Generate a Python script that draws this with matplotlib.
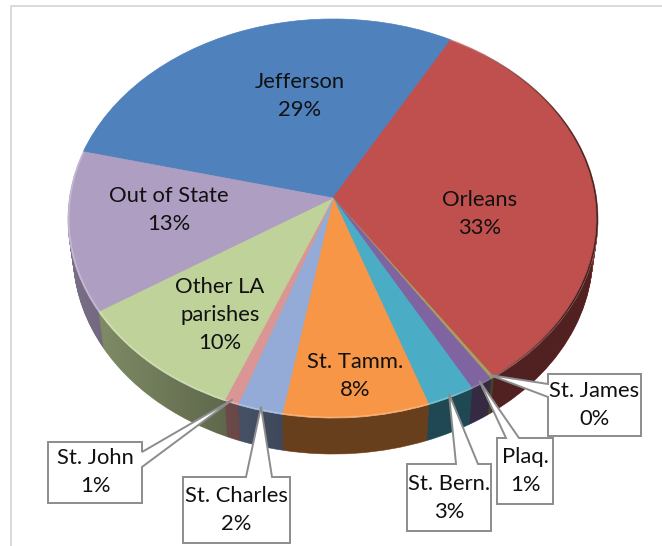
import numpy as np
import matplotlib
matplotlib.use("Agg")
import matplotlib.pyplot as plt
import matplotlib.transforms as mtransforms
from matplotlib.colors import to_rgb
from matplotlib.patches import Polygon

# ---- data (clockwise from the Jefferson wedge start) ----
categories = ["Jefferson", "Orleans", "St. James", "Plaq.", "St. Bern.",
              "St. Tamm.", "St. Charles", "St. John", "Other LA\nparishes", "Out of State"]
values = [29.25, 32.5, 0.2, 1.25, 2.65, 8.1, 2.5, 0.8, 9.8, 13.0]
pct_labels = ["29%", "33%", "0%", "1%", "3%", "8%", "2%", "1%", "10%", "13%"]
colors = ["#4F81BD", "#C0504D", "#A8A060", "#8064A2", "#4BACC6",
          "#F79646", "#93ABD6", "#DA9694", "#BFD299", "#AE9EC2"]

W, H = 662, 546
CX, CY, KP, AY, BX = 333.0, 198.0, 0.1028, 177.05, 263.6
DEPTH = 36
TAPER = 0.02


class Persp(mtransforms.Transform):
    input_dims = output_dims = 2
    has_inverse = False
    is_separable = False

    def transform_non_affine(self, xy):
        xy = np.asarray(xy, float)
        w = 1 + KP * xy[:, 1]
        return np.column_stack([CX + BX * xy[:, 0] / w, (CY - AY * xy[:, 1]) / w])


persp = Persp()


def layer_shift(dy):
    s = 1 - TAPER * dy / DEPTH
    return (mtransforms.Affine2D().translate(-CX, 0).scale(s, 1)
            .translate(CX, dy))


def project(u, v, dy=0):
    p = persp.transform_non_affine(np.column_stack([u, v]))
    return layer_shift(dy).transform(p)


plt.rcParams["font.family"] = ["Lato", "DejaVu Sans"]
fig = plt.figure(figsize=(W / 100, H / 100), dpi=100, facecolor="white")
ax = fig.add_axes([0, 0, 1, 1])


def draw_pie(cols, radius=1.0, dy=0, z=1):
    wedges, _ = ax.pie(values, colors=cols, radius=radius, startangle=166.1,
                       counterclock=False, wedgeprops={"linewidth": 0.5})
    tr = persp + layer_shift(dy) + ax.transData
    for w in wedges:
        w.set_transform(tr)
        w.set_edgecolor(w.get_facecolor())
        w.set_zorder(z)
    return wedges


# side wall
side_cols = [tuple(c * 0.7 for c in to_rgb(col)) for col in colors]
for dy in range(DEPTH, 0, -1):
    draw_pie(side_cols, dy=dy, z=2)

# darkening across the side wall
t = np.linspace(0, 2 * np.pi, 361)
lo = np.arcsin(KP)
arc = np.linspace(np.pi + lo, 2 * np.pi - lo, 200)
bottom = project(np.cos(arc), np.sin(arc), DEPTH)
top_l = project([np.cos(np.pi + lo)], [np.sin(np.pi + lo)])
top_r = project([np.cos(2 * np.pi - lo)], [np.sin(2 * np.pi - lo)])
clip_side = Polygon(np.vstack([top_l, bottom, top_r]), closed=True,
                    transform=ax.transData, fill=False, lw=0)
ax.add_patch(clip_side)
gx = np.arange(W)
shade = np.zeros((1, W, 4))
shade[0, :, 3] = np.clip((gx - 70) / 210, 0, 1) * 0.4
im = ax.imshow(shade, extent=(0, W, H, 0), aspect="auto", zorder=3, interpolation="bilinear")
im.set_clip_path(clip_side)

# bevel along the rim of the top face (none along the far, blue edge)
rim_cols = [tuple(c + (1 - c) * 0.28 for c in to_rgb(col)) for col in colors]
rim_cols[0] = to_rgb(colors[0])
draw_pie(rim_cols, z=4)
rim_outline = Polygon(project(np.cos(t), np.sin(t)), closed=True, transform=ax.transData,
                      fill=False, lw=0)
ax.add_patch(rim_outline)
shade2 = np.zeros((1, W, 4))
shade2[0, :, 3] = np.clip((gx - 450) / 120, 0, 1) * 0.7
im2 = ax.imshow(shade2, extent=(0, W, H, 0), aspect="auto", zorder=5, interpolation="bilinear")
im2.set_clip_path(rim_outline)

# top face
wedges = draw_pie(colors, radius=0.993, z=6)

# outer frame of the picture
ax.plot([11, 11, W], [H, 6, 6], color="#d9d9d9", lw=1.4, zorder=0)

ax.set_aspect("auto")
ax.set_xlim(0, W)
ax.set_ylim(H, 0)
ax.axis("off")

# labels inside the pie
inside_pos = {"Jefferson": (300, 96), "Orleans": (480, 214), "St. Tamm.": (355, 376),
              "Other LA\nparishes": (220, 315), "Out of State": (169, 210)}
# callout boxes: (x0, y0, x1, y1, base points on the box)
callouts = {
    "St. John": (48, 442, 142, 503, [(142, 452), (142, 467)]),
    "St. Charles": (183, 477, 290, 543, [(246, 477), (272, 477)]),
    "St. Bern.": (407, 464, 491, 531, [(456, 464), (478, 464)]),
    "Plaq.": (497, 438, 553, 504, [(506, 438), (519, 438)]),
    "St. James": (548, 374, 641, 436, [(548, 384), (548, 397)]),
}

TEXT = "#111111"
FS = 15.8
LS = 1.5
for i, name in enumerate(categories):
    label = f"{name}\n{pct_labels[i]}"
    if name in inside_pos:
        x, y = inside_pos[name]
        ax.text(x, y, label, ha="center", va="center", fontsize=FS, color=TEXT,
                linespacing=LS, zorder=10, multialignment="center")
    else:
        x0, y0, x1, y1, base = callouts[name]
        mid = np.deg2rad(90 - np.cumsum([0] + values)[i:i + 2].mean() * 3.6 / sum(values) * 100 + 76.1)
        tip = project([0.985 * np.cos(mid)], [0.985 * np.sin(mid)])[0]
        if base[0][0] == x1:      # base on the right side
            pts = [(x0, y0), (x1, y0), base[0], tip, base[1], (x1, y1), (x0, y1)]
        elif base[0][0] == x0:    # base on the left side
            pts = [(x0, y0), (x1, y0), (x1, y1), (x0, y1), base[1], tip, base[0]]
        else:                     # base on the top side
            pts = [(x0, y0), base[0], tip, base[1], (x1, y0), (x1, y1), (x0, y1)]
        ax.add_patch(Polygon(pts, closed=True, facecolor="white", edgecolor="#8c8c8c",
                             lw=1.4, zorder=8, joinstyle="miter"))
        ax.text((x0 + x1) / 2, (y0 + y1) / 2, label, ha="center", va="center", fontsize=FS,
                color=TEXT, linespacing=LS, zorder=10, multialignment="center")

fig.savefig("out.png", dpi=100)
